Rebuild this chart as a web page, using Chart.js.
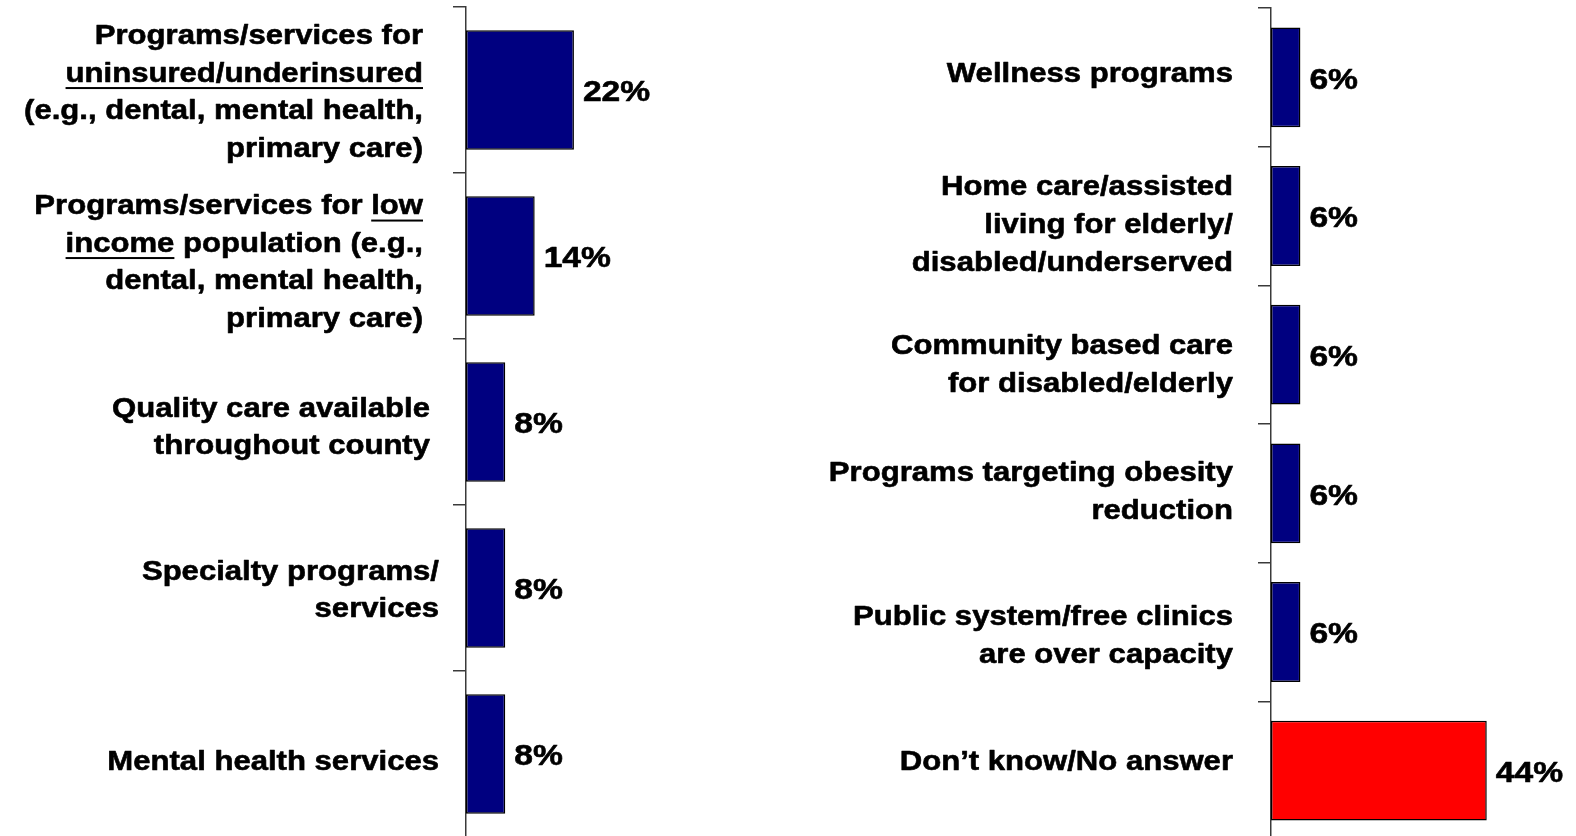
<!DOCTYPE html>
<html>
<head>
<meta charset="utf-8">
<script src="https://cdn.jsdelivr.net/npm/chart.js@4/dist/chart.umd.min.js"></script>
<style>
  html, body { margin: 0; padding: 0; background: #fff; overflow: hidden; }
  #wrap { position: relative; width: 1576px; height: 836px; overflow: hidden; }
  #chartLeft { position: absolute; left: 0; top: 0; }
  #chartRight { position: absolute; left: 800px; top: 0; }
</style>
</head>
<body>
<div id="wrap">
  <canvas id="chartLeft" width="780" height="845"></canvas>
  <canvas id="chartRight" width="776" height="845"></canvas>
</div>
<script>
// text between _underscores_ is underlined
var leftLabels = [
  ["Programs/services for", "_uninsured/underinsured_", "(e.g., dental, mental health,", "primary care)"],
  ["Programs/services for _low_", "_income_ population (e.g.,", "dental, mental health,", "primary care)"],
  ["Quality care available", "throughout county"],
  ["Specialty programs/", "services"],
  ["Mental health services"]
];
var leftValues = [22, 14, 8, 8, 8];

var rightLabels = [
  ["Wellness programs"],
  ["Home care/assisted", "living for elderly/", "disabled/underserved"],
  ["Community based care", "for disabled/elderly"],
  ["Programs targeting obesity", "reduction"],
  ["Public system/free clinics", "are over capacity"],
  ["Don\u2019t know/No answer"]
];
var rightValues = [6, 6, 6, 6, 6, 44];
var highlightLabel = "Don\u2019t know/No answer";

var NAVY = "#000080";
var RED = "#FF0000";
var AXIS = "#3a3a3a";
var FONT = '"Liberation Sans", Arial, sans-serif';

// draws category labels (with underline) and value labels
var textPlugin = {
  id: "textPlugin",
  afterDatasetsDraw: function (chart, args, opts) {
    var ctx = chart.ctx;
    var yScale = chart.scales.y;
    var meta = chart.getDatasetMeta(0);
    var fs = opts.fontSize;
    ctx.save();
    ctx.fillStyle = "#000";
    ctx.strokeStyle = "#000";
    ctx.lineWidth = opts.weight;
    ctx.lineJoin = "round";
    ctx.textBaseline = "middle";
    ctx.textAlign = "left";
    ctx.font = "bold " + fs + "px " + FONT;
    opts.labels.forEach(function (lines, i) {
      var cy = yScale.getPixelForValue(i) + opts.labelShift[i];
      var right = opts.labelRight[i];
      lines.forEach(function (line, j) {
        var y = cy + (j - (lines.length - 1) / 2) * opts.lineHeight;
        var parts = line.split("_");
        var total = 0;
        parts.forEach(function (p) { total += ctx.measureText(p).width; });
        var x = right - total * opts.stretch;
        parts.forEach(function (p, k) {
          var w = ctx.measureText(p).width * opts.stretch;
          ctx.save();
          ctx.translate(x, y);
          ctx.scale(opts.stretch, 1);
          ctx.fillText(p, 0, 0);
          ctx.strokeText(p, 0, 0);
          ctx.restore();
          if (k % 2 === 1) ctx.fillRect(x, y + 0.35 * fs + 3, w, 2);
          x += w;
        });
      });
    });
    // value labels
    var vfs = opts.valueFontSize;
    ctx.font = "bold " + vfs + "px " + FONT;
    meta.data.forEach(function (bar, i) {
      var txt = chart.data.datasets[0].data[i] + "%";
      ctx.save();
      ctx.translate(bar.x + 9, bar.y + 3);
      ctx.scale(opts.valueStretch, 1);
      ctx.fillText(txt, 0, 0);
      ctx.strokeText(txt, 0, 0);
      ctx.restore();
    });
    ctx.restore();
  }
};

var makeChart = function (canvasId, labels, values, colors, axisWidth, xMax, pad, labelRight, labelShift, lineHeight, lastTick) {
  var n = values.length;
  return new Chart(document.getElementById(canvasId).getContext("2d"), {
    type: "bar",
    data: {
      labels: labels.map(function (l) { return l.join(" ").replace(/_/g, ""); }),
      datasets: [{
        data: values,
        backgroundColor: colors,
        borderColor: "#000",
        borderWidth: 1.5,
        borderSkipped: false,
        barPercentage: 0.72,
        categoryPercentage: 1
      }]
    },
    options: {
      indexAxis: "y",
      responsive: false,
      animation: false,
      devicePixelRatio: 1,
      layout: { padding: pad },
      scales: {
        x: { display: false, min: 0, max: xMax },
        y: {
          afterFit: function (scale) { scale.width = axisWidth; },
          ticks: { display: false },
          grid: {
            offset: true,
            drawOnChartArea: false,
            drawTicks: true,
            tickLength: 13,
            color: function (c) { return (!lastTick && c.index >= n) ? "rgba(0,0,0,0)" : AXIS; },
            lineWidth: 1.5
          },
          border: { display: true, color: AXIS, width: 1.5 }
        }
      },
      plugins: {
        legend: { display: false },
        tooltip: { enabled: false },
        textPlugin: {
          labels: labels,
          labelRight: labelRight,
          labelShift: labelShift,
          fontSize: 28,
          lineHeight: lineHeight,
          stretch: 1.11,
          weight: 0.6,
          valueFontSize: 30,
          valueStretch: 1.12
        }
      }
    },
    plugins: [textPlugin]
  });
};

var leftColors = leftValues.map(function () { return NAVY; });
var rightColors = rightLabels.map(function (l) { return l.join(" ") === highlightLabel ? RED : NAVY; });

makeChart("chartLeft", leftLabels, leftValues, leftColors, 466, 64,
  { top: 7, bottom: 8, left: 0, right: 0 },
  [423, 423, 430, 439, 439], [3, 7, 6, 3, 8], 37.5, false);
makeChart("chartRight", rightLabels, rightValues, rightColors, 471, 62.2,
  { top: 8, bottom: 5, left: 0, right: 0 },
  [433, 433, 433, 433, 433, 433], [-3, 9, 11, -1, 4, -8], 38, true);
</script>
</body>
</html>
